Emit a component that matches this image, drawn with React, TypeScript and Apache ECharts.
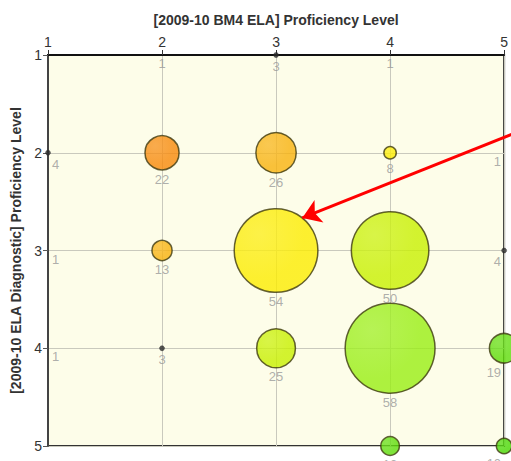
import React, { useEffect, useRef } from "react";
import * as echarts from "echarts";

const xLevels = [1, 2, 3, 4, 5];
const yLevels = [1, 2, 3, 4, 5];
const cellX = [2, 3, 4, 1, 2, 3, 4, 5, 1, 2, 3, 4, 5, 1, 2, 3, 4, 5, 4, 5];
const cellY = [1, 1, 1, 2, 2, 2, 2, 2, 3, 3, 3, 3, 3, 4, 4, 4, 4, 4, 5, 5];
const counts = [1, 3, 1, 4, 22, 26, 8, 1, 1, 13, 54, 50, 4, 1, 3, 25, 58, 19, 12, 10];
const xTitle = "[2009-10 BM4 ELA] Proficiency Level";
const yTitle = "[2009-10 ELA Diagnostic] Proficiency Level";
const arrowFrom = [5.22, 1.74];
const arrowTo = [3.23, 2.667];

const sumColors: Record<number, string> = {
  4: "#f7890a",
  5: "#f8b20e",
  6: "#fcec00",
  7: "#c8f000",
  8: "#99ee14",
  9: "#5edc08",
  10: "#48d800",
};

function lighten(hex: string, amt: number) {
  const n = parseInt(hex.slice(1), 16);
  const r = (n >> 16) & 255, g = (n >> 8) & 255, b = n & 255;
  const f = (c: number) => Math.round(c + (255 - c) * amt);
  return `rgb(${f(r)},${f(g)},${f(b)})`;
}

export default function App() {
  const ref = useRef<HTMLDivElement>(null);
  useEffect(() => {
    if (!ref.current) return;
    const chart = echarts.init(ref.current, undefined, { renderer: "svg" });
    const font = "Liberation Sans, Arial, sans-serif";
    const data = counts.map((c, i) => {
      const x = cellX[i];
      const y = cellY[i];
      const big = c >= 5;
      const base = sumColors[x + y] || "#99ee14";
      const size = big ? c * 1.55 : c >= 2 ? 5 : 0;
      let label: any = { show: true, position: "bottom", distance: 2 };
      if (x === 1) label = { show: true, position: ["50%", "100%"], align: "left", verticalAlign: "top", offset: [4, 2] };
      if (x === 5) label = { show: true, position: ["50%", "100%"], align: "right", verticalAlign: "top", offset: [-3, 2] };
      return {
        value: [x, y, c],
        symbolSize: size,
        itemStyle: big
          ? {
              color: new echarts.graphic.RadialGradient(0.3, 0.3, 0.9, [
                { offset: 0, color: lighten(base, 0.12) },
                { offset: 0.6, color: base },
                { offset: 1, color: base },
              ]),
              borderColor: "#3d3a10",
              borderWidth: 1.5,
            }
          : { color: "#2a2a2a", borderColor: "#2a2a2a", borderWidth: 0.5 },
        label,
      };
    });
    chart.setOption({
      animation: false,
      backgroundColor: "#ffffff",
      textStyle: { fontFamily: font },
      grid: {
        left: 48,
        top: 55,
        right: 6,
        bottom: 15,
        show: true,
        backgroundColor: "#fdfde9",
        borderColor: "#333",
        borderWidth: 2,
      },
      xAxis: {
        type: "value",
        position: "top",
        min: 1,
        max: 5,
        interval: 1,
        name: xTitle,
        nameLocation: "middle",
        nameGap: 28,
        nameTextStyle: { fontSize: 14, fontWeight: "bold", color: "#333", fontFamily: font },
        axisLine: { show: true, lineStyle: { color: "#111", width: 2 } },
        axisTick: { show: true, length: 5, lineStyle: { color: "#333" } },
        axisLabel: { fontSize: 14, color: "#333", margin: 6, fontFamily: font,
          formatter: (v: number) => (xLevels.includes(v) ? String(v) : "") },
        splitLine: { show: true, lineStyle: { color: "#c9c9bd", width: 1 } },
      },
      yAxis: {
        type: "value",
        inverse: true,
        min: 1,
        max: 5,
        interval: 1,
        name: yTitle,
        nameLocation: "middle",
        nameRotate: 90,
        nameGap: 24,
        nameTextStyle: { fontSize: 14, fontWeight: "bold", color: "#333", fontFamily: font },
        axisLine: { show: true, lineStyle: { color: "#444", width: 2 } },
        axisTick: { show: true, length: 5, lineStyle: { color: "#555" } },
        axisLabel: { fontSize: 14, color: "#333", margin: 6, fontFamily: font,
          formatter: (v: number) => (yLevels.includes(v) ? String(v) : "") },
        splitLine: { show: true, lineStyle: { color: "#c9c9bd", width: 1 } },
      },
      series: [
        {
          type: "scatter",
          clip: false,
          data,
          label: { color: "#9a9a9a", fontSize: 13, fontFamily: font, formatter: (p: any) => String(p.value[2]) },
        },
        {
          type: "lines",
          coordinateSystem: "cartesian2d",
          clip: false,
          silent: true,
          z: 10,
          symbol: ["none", "arrow"],
          symbolSize: [15, 18],
          lineStyle: { color: "#ff0000", width: 3, type: "solid", opacity: 1 },
          data: [{ coords: [arrowFrom, arrowTo] }],
        },
      ],
    });
    return () => chart.dispose();
  }, []);
  return (
    <div
      ref={ref}
      style={{ position: "fixed", left: 0, top: 0, width: 511, height: 461 }}
    />
  );
}
